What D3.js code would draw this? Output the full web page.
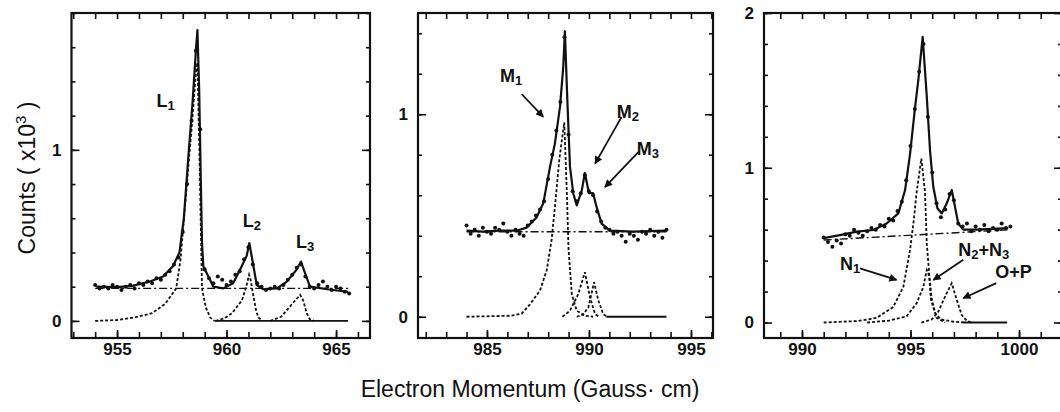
<!DOCTYPE html>
<html>
<head>
<meta charset="utf-8">
<script src="https://cdn.jsdelivr.net/npm/d3@7"></script>
<style>
  body { margin: 0; background: #fff; }
  text { font-family: "Liberation Sans", Arial, sans-serif; fill: #111; }
</style>
</head>
<body>
<div id="chart"></div>
<script>
// ---- L shell panel ----
const lXDomain = [952.92, 966.55];
const lYDomain = [-0.1, 1.8];
const lXLabels = [955, 960, 965];
const lYLabels = [0, 1];
const lDots = [[954.0,0.21],[954.2,0.19],[954.4,0.20],[954.6,0.19],[954.8,0.21],[955.0,0.20],[955.2,0.18],[955.4,0.20],
  [955.6,0.21],[955.8,0.19],[956.0,0.22],[956.2,0.21],[956.4,0.23],[956.6,0.22],[956.8,0.25],[957.0,0.24],[957.2,0.27],
  [957.4,0.29],[957.6,0.33],[957.8,0.37],[958.0,0.52],[958.2,0.80],[958.4,1.17],[958.6,1.58],[958.8,1.12],[959.0,0.30],
  [959.2,0.25],[959.4,0.22],[959.6,0.26],[959.8,0.24],[960.0,0.21],[960.2,0.23],[960.4,0.27],[960.6,0.29],[960.8,0.36],
  [961.0,0.43],[961.2,0.33],[961.4,0.22],[961.6,0.20],[961.8,0.18],[962.0,0.19],[962.2,0.20],[962.4,0.19],[962.6,0.21],
  [962.8,0.24],[963.0,0.27],[963.2,0.31],[963.4,0.33],[963.6,0.26],[963.8,0.20],[964.0,0.19],[964.2,0.21],[964.4,0.23],
  [964.6,0.20],[964.8,0.18],[965.0,0.20],[965.2,0.19],[965.4,0.17],[965.6,0.16]];
const lFit = [[954.05,0.20],[955.0,0.197],[955.7,0.205],[956.5,0.23],[957.1,0.26],[957.55,0.32],[957.85,0.40],[958.05,0.6],
  [958.25,0.95],[958.45,1.28],[958.6,1.58],[958.67,1.70],[958.75,1.35],[958.82,0.85],[958.88,0.45],[958.94,0.32],
  [959.17,0.26],[959.4,0.20],[959.85,0.19],[960.3,0.22],[960.62,0.30],[960.92,0.38],[961.04,0.455],[961.2,0.34],
  [961.38,0.21],[961.68,0.185],[962.3,0.19],[962.75,0.23],[963.2,0.30],[963.4,0.347],[963.58,0.28],[963.81,0.20],
  [964.6,0.185],[965.55,0.17]];
const lBase = [[954.0,0.19],[965.6,0.19]];
const lComp1 = [[954.0,0],[955.0,0.005],[955.8,0.02],[956.6,0.045],[957.2,0.10],[957.7,0.19],[957.9,0.36],[958.05,0.59],
  [958.2,0.82],[958.4,1.12],[958.6,1.45],[958.67,1.51],[958.76,1.0],[958.84,0.45],[958.88,0.19],[959.05,0.08],
  [959.25,0.02],[959.45,0]];
const lComp2 = [[959.5,0],[959.9,0.015],[960.25,0.045],[960.7,0.12],[960.9,0.2],[961.03,0.27],[961.1,0.24],[961.22,0.15],
  [961.35,0.06],[961.45,0.02],[961.65,0]];
const lComp3 = [[962.0,0],[962.5,0.025],[963.0,0.10],[963.36,0.152],[963.5,0.12],[963.66,0.045],[963.8,0.01],[964.0,0]];
const lZero = [[959.45,0],[965.55,0]];
const lNotes = [{t:'L_1', x:956.8, y:1.25}, {t:'L_2', x:960.74, y:0.55}, {t:'L_3', x:963.17, y:0.425}];
const lArrows = [];

// ---- M shell panel ----
const mXDomain = [981.62, 996.08];
const mYDomain = [-0.105, 1.5];
const mXLabels = [985, 990, 995];
const mYLabels = [0, 1];
const mDots = [[984.0,0.45],[984.2,0.41],[984.4,0.43],[984.6,0.40],[984.8,0.44],[985.0,0.42],[985.2,0.41],[985.4,0.44],
  [985.6,0.43],[985.8,0.46],[986.0,0.42],[986.2,0.40],[986.4,0.43],[986.6,0.41],[986.8,0.40],[987.0,0.45],[987.2,0.47],
  [987.4,0.50],[987.6,0.53],[987.8,0.57],[988.0,0.68],[988.2,0.80],[988.4,0.92],[988.6,1.06],[988.8,1.38],[989.0,0.90],
  [989.2,0.62],[989.4,0.57],[989.6,0.61],[989.8,0.70],[990.0,0.62],[990.2,0.60],[990.4,0.52],[990.6,0.47],[990.8,0.44],
  [991.0,0.43],[991.2,0.41],[991.4,0.42],[991.6,0.40],[991.8,0.37],[992.0,0.41],[992.2,0.40],[992.4,0.38],[992.6,0.42],
  [992.8,0.41],[993.0,0.43],[993.2,0.40],[993.4,0.42],[993.6,0.39],[993.8,0.43]];
const mFit = [[984.0,0.425],[984.8,0.42],[985.6,0.425],[986.45,0.425],[986.94,0.44],[987.43,0.49],[987.76,0.56],
  [988.09,0.74],[988.33,0.855],[988.58,1.036],[988.74,1.234],[988.82,1.41],[988.94,1.07],[989.07,0.74],[989.23,0.61],
  [989.4,0.55],[989.64,0.62],[989.8,0.71],[990.0,0.61],[990.2,0.61],[990.38,0.54],[990.62,0.46],[991.03,0.425],
  [992.17,0.42],[993.8,0.425]];
const mBase = [[984.0,0.42],[993.8,0.42]];
const mComp1 = [[984.0,0],[986.2,0.005],[986.7,0.015],[987.1,0.06],[987.6,0.13],[987.93,0.23],[988.17,0.38],[988.33,0.54],
  [988.55,0.78],[988.79,0.96],[988.92,0.6],[989.0,0.33],[989.16,0.11],[989.4,0.03],[989.8,0.005],[990.2,0]];
const mComp2 = [[988.7,0],[989.07,0.03],[989.47,0.11],[989.8,0.22],[990.05,0.096],[990.3,0.013],[990.5,0]];
const mComp3 = [[989.4,0],[989.7,0.01],[989.97,0.046],[990.25,0.17],[990.46,0.08],[990.7,0.013],[990.9,0]];
const mZero = [[990.85,0],[993.8,0]];
const mNotes = [{t:'M_1', x:985.64, y:1.16}, {t:'M_2', x:991.36, y:0.98}, {t:'M_3', x:992.34, y:0.80}];
const mArrows = [[986.7,1.10,987.76,0.987],[991.6,0.987,990.3,0.756],[992.42,0.813,990.78,0.64]];

// ---- N shell panel ----
const nXDomain = [988.25, 1001.98];
const nYDomain = [-0.1, 2.0];
const nXLabels = [990, 995, 1000];
const nYLabels = [0, 1, 2];
const nDots = [[991.0,0.55],[991.2,0.52],[991.4,0.49],[991.6,0.53],[991.8,0.51],[992.0,0.57],[992.2,0.56],[992.4,0.60],
  [992.6,0.58],[992.8,0.56],[993.0,0.59],[993.2,0.61],[993.4,0.60],[993.6,0.63],[993.8,0.62],[994.0,0.67],[994.2,0.66],
  [994.4,0.72],[994.6,0.78],[994.8,0.92],[995.0,1.14],[995.2,1.38],[995.4,1.62],[995.6,1.80],[995.8,1.33],[996.0,0.97],
  [996.2,0.77],[996.4,0.68],[996.6,0.73],[996.8,0.83],[997.0,0.79],[997.2,0.64],[997.4,0.62],[997.6,0.64],[997.8,0.59],
  [998.0,0.62],[998.2,0.60],[998.4,0.63],[998.6,0.59],[998.8,0.61],[999.0,0.60],[999.2,0.64],[999.4,0.61],[999.6,0.62]];
const nFit = [[991.0,0.545],[991.75,0.565],[992.52,0.587],[993.29,0.598],[993.9,0.64],[994.44,0.705],[994.75,0.856],
  [994.98,1.09],[995.21,1.39],[995.36,1.567],[995.56,1.846],[995.75,1.46],[995.9,1.11],[996.05,0.877],[996.24,0.738],
  [996.44,0.705],[996.67,0.77],[996.9,0.856],[997.05,0.748],[997.2,0.64],[997.43,0.6],[998.05,0.60],[999.5,0.61]];
const nBase = [[991.0,0.533],[999.6,0.60]];
const nComp1 = [[991.0,0],[992.6,0.01],[993.44,0.03],[994.2,0.10],[994.67,0.23],[994.98,0.47],[995.15,0.66],[995.28,0.84],
  [995.5,1.06],[995.67,0.84],[995.75,0.51],[995.87,0.30],[995.98,0.15],[996.2,0.03],[996.6,0]];
const nComp2 = [[993.0,0],[994.0,0.012],[994.82,0.04],[995.28,0.124],[995.59,0.23],[995.75,0.34],[995.82,0.32],
  [995.87,0.28],[995.94,0.15],[996.13,0.06],[996.4,0.02],[997.0,0.005],[997.5,0]];
const nComp3 = [[995.5,0],[995.98,0.02],[996.28,0.07],[996.59,0.167],[996.9,0.254],[997.13,0.146],[997.36,0.048],
  [997.6,0.01],[997.8,0]];
const nZero = [[997.45,0],[999.45,0]];
const nNotes = [{t:'N_1', x:991.75, y:0.34}, {t:'N_2+N_3', x:997.2, y:0.43}, {t:'O+P', x:998.9, y:0.285}];
const nArrows = [[992.67,0.35,994.36,0.275],[997.43,0.405,996.05,0.275],[998.95,0.255,997.43,0.157]];

const width = 1060, height = 412;

const panels = [
  { box: [71.5, 13, 370, 338], xDomain: lXDomain, yDomain: lYDomain, xLabels: lXLabels, yLabels: lYLabels,
    dots: lDots, fit: lFit, base: lBase, comps: [lComp1, lComp2, lComp3], zero: lZero, notes: lNotes, arrows: lArrows },
  { box: [418, 13, 713, 338], xDomain: mXDomain, yDomain: mYDomain, xLabels: mXLabels, yLabels: mYLabels,
    dots: mDots, fit: mFit, base: mBase, comps: [mComp1, mComp2, mComp3], zero: mZero, notes: mNotes, arrows: mArrows },
  { box: [764, 13, 1062, 338], xDomain: nXDomain, yDomain: nYDomain, xLabels: nXLabels, yLabels: nYLabels,
    dots: nDots, fit: nFit, base: nBase, comps: [nComp1, nComp2, nComp3], zero: nZero, notes: nNotes, arrows: nArrows }
];

const svg = d3.select('#chart').append('svg')
  .attr('width', width)
  .attr('height', height);

svg.append('defs').append('marker')
  .attr('id', 'head')
  .attr('viewBox', '0 0 10 10')
  .attr('refX', 9).attr('refY', 5)
  .attr('markerWidth', 9).attr('markerHeight', 8)
  .attr('markerUnits', 'userSpaceOnUse')
  .attr('orient', 'auto')
  .append('path').attr('d', 'M0,0 L10,5 L0,10 z').attr('fill', '#111');

function styleAxis(g) {
  g.select('.domain').remove();
  g.selectAll('line').attr('stroke', '#111').attr('stroke-width', 1.6);
  g.selectAll('text').attr('font-size', 17).attr('font-weight', 'bold').attr('fill', '#111');
}

function drawPanel(p) {
  const [x0, y0, x1, y1] = p.box;
  const x = d3.scaleLinear().domain(p.xDomain).range([x0, x1]);
  const y = d3.scaleLinear().domain(p.yDomain).range([y1, y0]);
  const g = svg.append('g');

  const xMinor = d3.range(Math.ceil(p.xDomain[0]), p.xDomain[1], 1);
  const yMinor = d3.range(0, Math.round(p.yDomain[1] * 5) + 1).map(i => i / 5);

  // inward ticks on all four sides
  g.append('g').attr('transform', `translate(0,${y1})`)
    .call(d3.axisBottom(x).tickValues(xMinor).tickSize(-6).tickFormat('')).call(styleAxis);
  g.append('g').attr('transform', `translate(0,${y1})`)
    .call(d3.axisBottom(x).tickValues(p.xLabels).tickSize(-8).tickPadding(5).tickFormat(d3.format('d'))).call(styleAxis);
  g.append('g').attr('transform', `translate(0,${y0})`)
    .call(d3.axisTop(x).tickValues(xMinor).tickSize(-6).tickFormat('')).call(styleAxis);
  g.append('g').attr('transform', `translate(${x0},0)`)
    .call(d3.axisLeft(y).tickValues(yMinor).tickSize(-4).tickFormat('')).call(styleAxis);
  g.append('g').attr('transform', `translate(${x0},0)`)
    .call(d3.axisLeft(y).tickValues(p.yLabels).tickSize(-8).tickPadding(10).tickFormat(d3.format('d'))).call(styleAxis);
  g.append('g').attr('transform', `translate(${x1},0)`)
    .call(d3.axisRight(y).tickValues(yMinor).tickSize(-4).tickFormat('')).call(styleAxis);
  g.append('g').attr('transform', `translate(${x1},0)`)
    .call(d3.axisRight(y).tickValues(p.yLabels).tickSize(-8).tickFormat('')).call(styleAxis);

  const line = d3.line().x(d => x(d[0])).y(d => y(d[1]));

  g.selectAll('path.comp').data(p.comps).enter().append('path')
    .attr('class', 'comp')
    .attr('d', line)
    .attr('fill', 'none').attr('stroke', '#111')
    .attr('stroke-width', 1.8).attr('stroke-dasharray', '3,2');

  g.append('path').attr('d', line(p.zero))
    .attr('fill', 'none').attr('stroke', '#111').attr('stroke-width', 1.8);

  g.append('path').attr('d', line(p.base))
    .attr('fill', 'none').attr('stroke', '#111')
    .attr('stroke-width', 1.4).attr('stroke-dasharray', '8,3,2,3');

  g.append('path').attr('d', line(p.fit))
    .attr('fill', 'none').attr('stroke', '#111')
    .attr('stroke-width', 2.2).attr('stroke-linejoin', 'round');

  g.selectAll('circle').data(p.dots).enter().append('circle')
    .attr('cx', d => x(d[0])).attr('cy', d => y(d[1]))
    .attr('r', 2).attr('fill', '#111');

  g.selectAll('line.arrow').data(p.arrows).enter().append('line')
    .attr('class', 'arrow')
    .attr('x1', d => x(d[0])).attr('y1', d => y(d[1]))
    .attr('x2', d => x(d[2])).attr('y2', d => y(d[3]))
    .attr('stroke', '#111').attr('stroke-width', 1.8)
    .attr('marker-end', 'url(#head)');

  // labels like L_1 or N_2+N_3 : "_d" is a subscript digit
  p.notes.forEach(n => {
    const t = g.append('text')
      .attr('x', x(n.x)).attr('y', y(n.y))
      .attr('font-size', 18).attr('font-weight', 'bold');
    let shifted = false;
    n.t.split(/(_\d)/).filter(s => s.length).forEach(s => {
      if (s[0] === '_') {
        t.append('tspan').attr('dy', 3).attr('font-size', 13).text(s.slice(1));
        shifted = true;
      } else {
        t.append('tspan').attr('dy', shifted ? -3 : 0).text(s);
        shifted = false;
      }
    });
  });

  g.append('rect')
    .attr('x', x0).attr('y', y0)
    .attr('width', x1 - x0).attr('height', y1 - y0)
    .attr('fill', 'none').attr('stroke', '#111').attr('stroke-width', 2.2);
}

panels.forEach(drawPanel);

const yTitle = svg.append('text')
  .attr('transform', 'translate(35,178) rotate(-90)')
  .attr('text-anchor', 'middle')
  .attr('font-size', 23);
yTitle.append('tspan').text('Counts ( x10');
yTitle.append('tspan').attr('dy', -9).attr('font-size', 15).text('3');
yTitle.append('tspan').attr('dy', 9).text(' )');

svg.append('text')
  .attr('x', 530).attr('y', 397)
  .attr('text-anchor', 'middle')
  .attr('font-size', 23)
  .text('Electron Momentum (Gauss\u00b7 cm)');
</script>
</body>
</html>
